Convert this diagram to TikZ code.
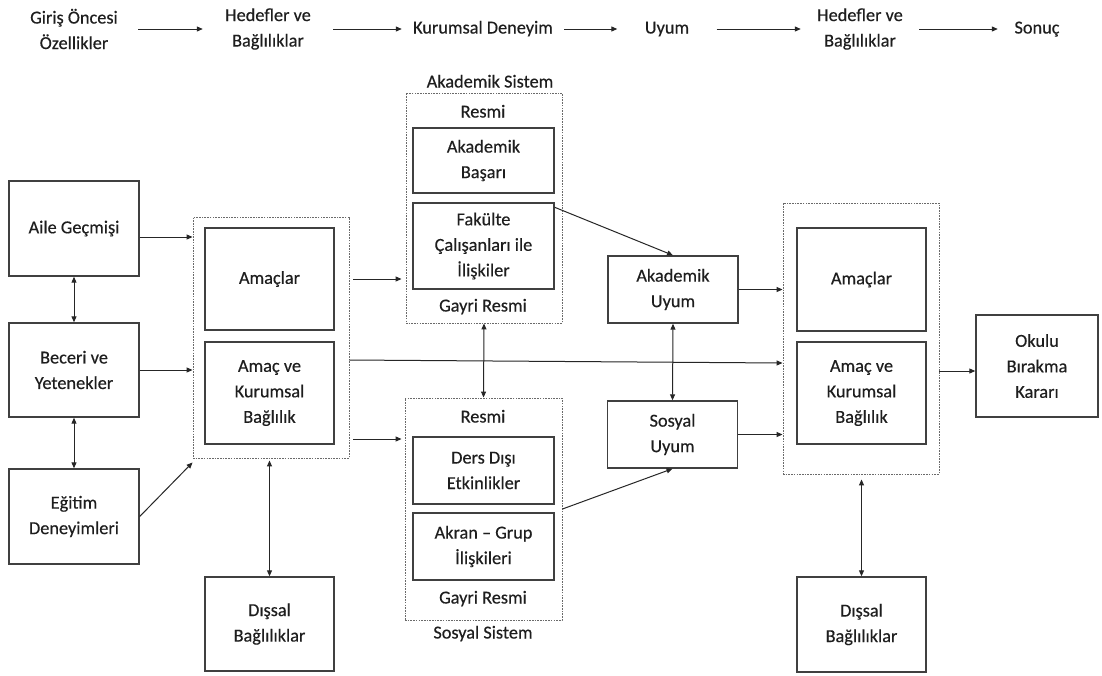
\documentclass[tikz,border=0pt]{standalone}
\usepackage{fontspec}
\setmainfont{Carlito}[FakeBold=0.35]
\usetikzlibrary{arrows.meta}
\definecolor{boxc}{HTML}{404040}
\definecolor{dashc}{HTML}{6A6A6A}
\definecolor{arrc}{HTML}{262626}
\definecolor{txtc}{HTML}{1E1E1E}
\newcommand\figfont{\fontsize{18.3}{25.5}\selectfont}
\tikzset{
  box/.style={draw=boxc, line width=1.4pt, align=center, inner sep=0pt, font=\figfont, text=txtc},
  dbox/.style={draw=dashc, line width=0.9pt, dash pattern=on 1.6pt off 1.1pt, inner sep=0pt},
  lbl/.style={font=\figfont, inner sep=0pt, align=center, text=txtc},
  one/.style={text height=12pt, text depth=3pt},
  arr/.style={-{Triangle[length=6pt,width=5pt]}, line width=1pt, draw=arrc},
  darr/.style={{Triangle[length=6pt,width=5pt]}-{Triangle[length=6pt,width=5pt]}, line width=1pt, draw=arrc}
}
\begin{document}
\begin{tikzpicture}[x=1pt,y=-1pt]
\useasboundingbox[fill=white] (0,0) rectangle (1102,675);

% top row
\node[lbl, minimum width=128pt] (T1) at (74,29) {Giriş Öncesi\\Özellikler};
\node[lbl, minimum width=130pt] (T2) at (268,29) {Hedefler ve\\Bağlılıklar};
\node[lbl, one, minimum width=162pt] (T3) at (483,29) {Kurumsal Deneyim};
\node[lbl, one, minimum width=99pt] (T4) at (667,29) {Uyum};
\node[lbl, minimum width=118pt] (T5) at (860,29) {Hedefler ve\\Bağlılıklar};
\node[lbl, one, minimum width=78pt] (T6) at (1037,29) {Sonuç};
\draw[arr] (T1) -- (T2);
\draw[arr] (T2) -- (T3);
\draw[arr] (T3) -- (T4);
\draw[arr] (T4) -- (T5);
\draw[arr] (T5) -- (T6);

% left column
\node[box, minimum width=130pt, minimum height=95pt] (A1) at (74,228.5) {Aile Geçmişi};
\node[box, minimum width=130pt, minimum height=94pt] (A2) at (74,370) {Beceri ve\\Yetenekler};
\node[box, minimum width=130pt, minimum height=95pt] (A3) at (74,516.5) {Eğitim\\Deneyimleri};

% left dashed group
\node[dbox, minimum width=156pt, minimum height=241pt] (D1) at (271,337.5) {};
\node[box, minimum width=129pt, minimum height=102pt] (B1) at (269.5,279) {Amaçlar};
\node[box, minimum width=129pt, minimum height=102pt] (B2) at (269.5,393) {Amaç ve\\Kurumsal\\Bağlılık};
\node[box, minimum width=129pt, minimum height=94pt] (B3) at (269.5,624) {Dışsal\\Bağlılıklar};

% academic system
\node[dbox, minimum width=156pt, minimum height=230pt] (D2) at (484,208) {};
\node[lbl, one] (L1) at (490,83) {Akademik Sistem};
\node[lbl, one] (L2) at (483,113) {Resmi};
\node[box, minimum width=141pt, minimum height=65pt] (C1) at (483.5,160.5) {Akademik\\Başarı};
\node[box, minimum width=141pt, minimum height=86pt] (C2) at (483.5,246) {Fakülte\\Çalışanları ile\\İlişkiler};
\node[lbl, one] (L3) at (483,307) {Gayri Resmi};

% social system
\node[dbox, minimum width=157pt, minimum height=222pt] (D3) at (483.5,509) {};
\node[lbl, one] (L4) at (483,418) {Resmi};
\node[box, minimum width=141pt, minimum height=67pt] (C3) at (483.5,470.5) {Ders Dışı\\Etkinlikler};
\node[box, minimum width=141pt, minimum height=67pt] (C4) at (483.5,546.5) {Akran – Grup\\İlişkileri};
\node[lbl, one] (L5) at (483,599) {Gayri Resmi};
\node[lbl, one] (L6) at (483,634) {Sosyal Sistem};

% integration
\node[box, minimum width=130pt, minimum height=67pt] (E1) at (673,289.5) {Akademik\\Uyum};
\node[box, minimum width=130pt, minimum height=67pt] (E2) at (672.5,434.5) {Sosyal\\Uyum};

% right dashed group
\node[dbox, minimum width=156pt, minimum height=271pt] (D4) at (861,338.5) {};
\node[box, minimum width=129pt, minimum height=103pt] (F1) at (861.5,279.5) {Amaçlar};
\node[box, minimum width=129pt, minimum height=102pt] (F2) at (861.5,393) {Amaç ve\\Kurumsal\\Bağlılık};
\node[box, minimum width=129pt, minimum height=95pt] (F3) at (861.5,624.5) {Dışsal\\Bağlılıklar};
\node[box, minimum width=122pt, minimum height=102pt] (G) at (1037,366) {Okulu\\Bırakma\\Kararı};

% connectors
\draw[arr] ([yshift=-8.5pt]A1.east) -- ([yshift=-8.5pt]A1.east -| D1.west);
\draw[arr] (A2.east) -- (A2.east -| D1.west);
\draw[arr] (A3.east) -- ([yshift=-4pt]D1.south west);
\draw[darr] (A1.south) -- (A2.north);
\draw[darr] (A2.south) -- (A3.north);
\draw[darr, shorten <=2pt] (B3.north |- D1.south) -- (B3.north);
\draw[arr, shorten <=4pt, shorten >=4pt] (B1.east -| D1.east) -- (B1.east -| D2.west);
\draw[arr, shorten <=4pt, shorten >=3pt] ([yshift=-46pt]B2.east -| D1.east) -- ([yshift=-46pt]B2.east -| D3.west);
\draw[arr] ([yshift=-22.5pt]D1.west -| D1.east) -- ([yshift=-24.5pt]D4.west);
\draw[darr] (D2.south) -- (D3.north);
\draw[arr] ([yshift=-5pt]C2.north east) -- (E1.north);
\draw[arr] (D3.east) -- (E2.south);
\draw[darr] (E1.south) -- (E2.north);
\draw[arr] (E1.east) -- (E1.east -| D4.west);
\draw[arr] (E2.east) -- (E2.east -| D4.west);
\draw[arr] ([yshift=-5pt]G.west -| D4.east) -- ([yshift=-5pt]G.west);
\draw[darr, shorten <=5pt] (F3.north |- D4.south) -- (F3.north);
\end{tikzpicture}
\end{document}
